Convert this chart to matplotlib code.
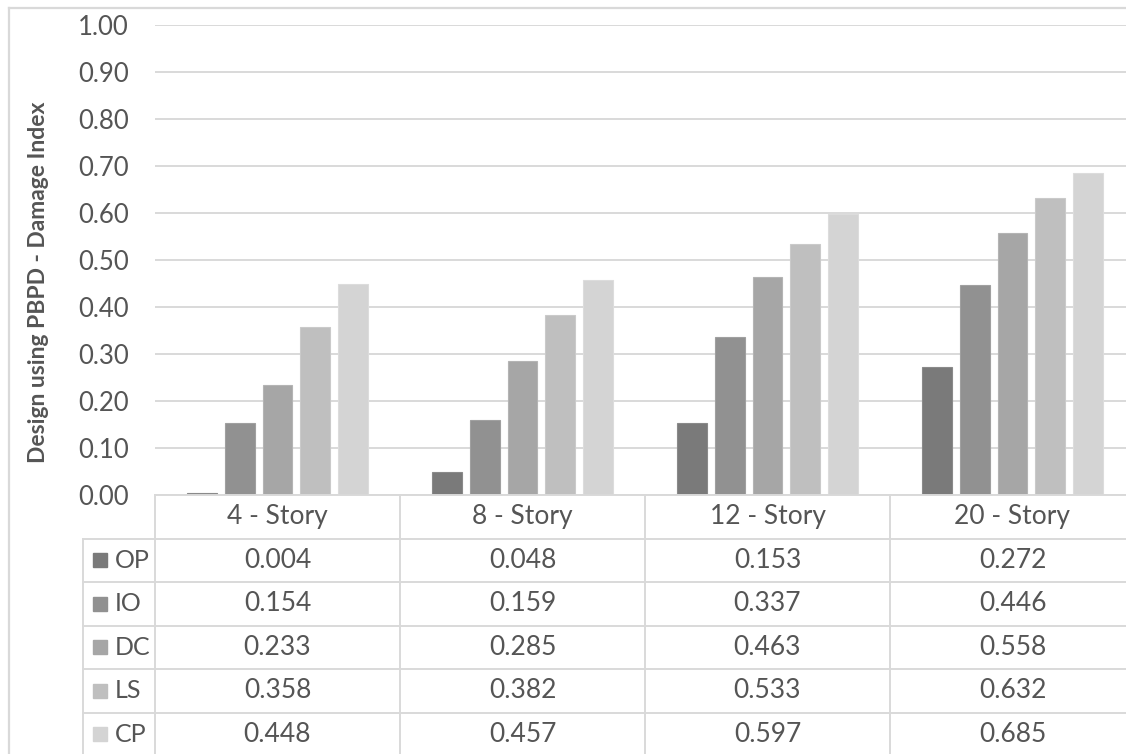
import matplotlib
matplotlib.use("Agg")
import matplotlib.pyplot as plt
from matplotlib.lines import Line2D

# data
categories = ["4 - Story", "8 - Story", "12 - Story", "20 - Story"]
levels = ["OP", "IO", "DC", "LS", "CP"]
op = [0.004, 0.048, 0.153, 0.272]
io = [0.154, 0.159, 0.337, 0.446]
dc = [0.233, 0.285, 0.463, 0.558]
ls = [0.358, 0.382, 0.533, 0.632]
cp = [0.448, 0.457, 0.597, 0.685]
yticks = [0.0, 0.1, 0.2, 0.3, 0.4, 0.5, 0.6, 0.7, 0.8, 0.9, 1.0]

series = [op, io, dc, ls, cp]
colors = ["#7a7a7a", "#919191", "#a6a6a6", "#bfbfbf", "#d4d4d4"]
edges = ["#8a8a8a", "#a0a0a0", "#b4b4b4", "#cacaca", "#dcdcdc"]
grid_c = "#d9d9d9"
text_c = "#555555"

plt.rcParams["font.family"] = ["Lato", "DejaVu Sans"]

W, H = 1126, 754
fig = plt.figure(figsize=(W / 100, H / 100), dpi=100)

# pixel layout (from the reference)
x0, x1 = 155, 1135          # plot area left/right
y_top, y_zero = 25, 495     # 1.00 and 0.00
lab_x = 83                  # left edge of the series label column
n_rows = len(levels) + 1
row_h = 43.5

ax = fig.add_axes([x0 / W, (H - y_zero) / H, (x1 - x0) / W, (y_zero - y_top) / H])
ncat = len(categories)
ax.set_xlim(-0.5, ncat - 0.5)
ax.set_ylim(0, 1.0)

step = 0.154
bw = 0.122
for i, (vals, c, e) in enumerate(zip(series, colors, edges)):
    xs = [k + (i - 2) * step for k in range(ncat)]
    ax.bar(xs, vals, width=bw, color=c, edgecolor=e, linewidth=0.8, zorder=3)

ax.set_yticks(yticks)
ax.set_yticklabels([f"{v:.2f}" for v in yticks])
ax.tick_params(axis="y", length=0, pad=19, labelsize=18.5, labelcolor=text_c)
ax.set_xticks([])
ax.grid(axis="y", color=grid_c, linewidth=1.4, zorder=0)
for s in ["left", "right", "top"]:
    ax.spines[s].set_visible(False)
ax.spines["bottom"].set_color(grid_c)
ax.spines["bottom"].set_linewidth(1.4)
ax.spines["bottom"].set_zorder(4)
ax.set_ylabel("Design using PBPD - Damage Index", fontsize=16.5, fontweight="bold",
              color=text_c)
ax.yaxis.set_label_coords(-(x0 - 49) / (x1 - x0), (y_zero - 282) / (y_zero - y_top))

# data table under the plot
tab_h = n_rows * row_h
lab_units = (x0 - lab_x) / ((x1 - x0) / ncat)
tab = fig.add_axes([lab_x / W, (H - y_zero - tab_h) / H, (x1 - lab_x) / W, tab_h / H])
tab.set_xlim(-0.5 - lab_units, ncat - 0.5)
tab.set_ylim(n_rows, 0)
tab.axis("off")

lw = 1.4
for r in range(1, n_rows + 1):
    tab.plot([-0.5 - lab_units, ncat - 0.5], [r, r], color=grid_c, lw=lw, clip_on=False)
tab.plot([-0.5 - lab_units] * 2, [1, n_rows], color=grid_c, lw=lw, clip_on=False)
for k in range(ncat + 1):
    tab.plot([k - 0.5] * 2, [0, n_rows], color=grid_c, lw=lw, clip_on=False)

fs = 19
for k, cat in enumerate(categories):
    tab.text(k, 0.5, cat, ha="center", va="center", fontsize=fs, color=text_c)

for i, (name, vals, c) in enumerate(zip(levels, series, colors)):
    yr = i + 1.5
    tab.plot([-0.5 - lab_units + 0.07], [yr], marker="s", markersize=10,
             color=c, clip_on=False)
    tab.text(-0.5 - lab_units + 0.13, yr, name, ha="left", va="center",
             fontsize=18, color=text_c)
    for k, v in enumerate(vals):
        tab.text(k, yr, f"{v:.3f}", ha="center", va="center", fontsize=fs, color=text_c)

# outer chart border
fig.add_artist(Line2D([9 / W, 9 / W], [0, 1 - 8 / H], color=grid_c, lw=1.6))
fig.add_artist(Line2D([9 / W, 1], [1 - 8 / H, 1 - 8 / H], color=grid_c, lw=1.6))

fig.savefig("out.png", dpi=100)
